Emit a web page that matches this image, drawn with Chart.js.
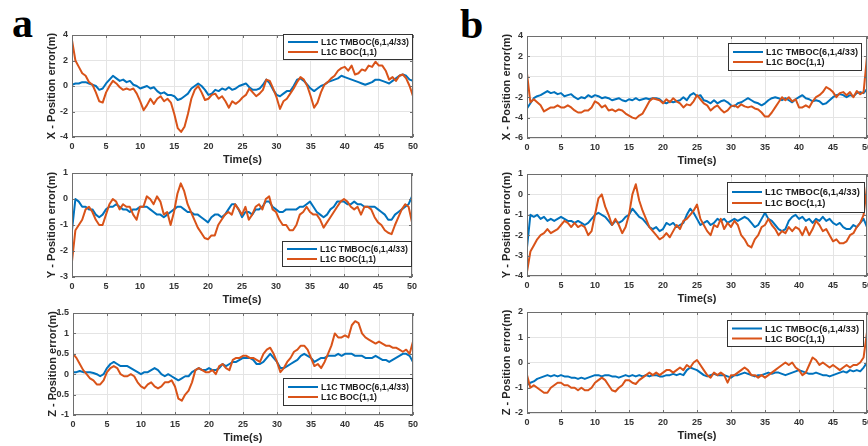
<!DOCTYPE html>
<html><head><meta charset="utf-8">
<script src="https://cdn.jsdelivr.net/npm/chart.js@4.4.1/dist/chart.umd.min.js"></script>
<style>
html,body{margin:0;padding:0;background:#fff;}
body{width:868px;height:446px;overflow:hidden;position:relative;}
canvas{position:absolute;}
.lab{position:absolute;font-family:"Liberation Serif","Times New Roman",serif;font-weight:bold;font-size:42px;line-height:42px;color:#000;}
</style></head><body>
<div class="lab" style="left:12px;top:2px">a</div>
<div class="lab" style="left:460px;top:3px">b</div>
<canvas id="c0"></canvas><canvas id="c1"></canvas><canvas id="c2"></canvas>
<canvas id="c3"></canvas><canvas id="c4"></canvas><canvas id="c5"></canvas>
<script>
const time = [0,0.5,1,1.5,2,2.5,3,3.5,4,4.5,5,5.5,6,6.5,7,7.5,8,8.5,9,9.5,10,10.5,11,11.5,12,12.5,13,13.5,14,14.5,15,15.5,16,16.5,17,17.5,18,18.5,19,19.5,20,20.5,21,21.5,22,22.5,23,23.5,24,24.5,25,25.5,26,26.5,27,27.5,28,28.5,29,29.5,30,30.5,31,31.5,32,32.5,33,33.5,34,34.5,35,35.5,36,36.5,37,37.5,38,38.5,39,39.5,40,40.5,41,41.5,42,42.5,43,43.5,44,44.5,45,45.5,46,46.5,47,47.5,48,48.5,49,49.5,50];
const xTicks = [0,5,10,15,20,25,30,35,40,45,50];
const seriesNames = ['L1C TMBOC(6,1,4/33)', 'L1C BOC(1,1)'];
const yTitles = ['X - Position error(m)', 'Y - Position error(m)', 'Z - Position error(m)'];
const xTitle = 'Time(s)';

// Panel a
const aX_tmboc = [0.1,0.2,0.2,0.3,0.3,0.2,0.1,0.0,-0.3,-0.2,
 0.2,0.5,0.8,0.6,0.4,0.5,0.3,0.4,0.1,0.0,
 -0.2,-0.1,0.0,-0.2,-0.1,-0.4,-0.6,-0.5,-0.7,-0.7,
 -0.8,-1.1,-1.0,-0.8,-0.6,-0.2,0.0,0.2,0.0,-0.3,
 -0.7,-0.6,-0.3,-0.4,-0.2,-0.3,-0.1,-0.3,-0.2,0.0,
 0.1,0.2,-0.1,-0.3,-0.3,-0.2,0.1,0.5,0.2,-0.3,
 -0.7,-0.8,-0.6,-0.4,-0.4,0.0,0.5,0.6,0.4,0.1,
 -0.2,-0.4,-0.2,0.0,0.1,0.3,0.4,0.5,0.6,0.8,
 0.7,0.6,0.5,0.4,0.3,0.2,0.1,0.2,0.3,0.5,
 0.5,0.4,0.3,0.2,0.4,0.6,0.8,0.9,0.8,0.5,
 0.4];
const aX_boc = [3.6,2.0,1.5,1.0,0.8,0.3,0.1,-0.5,-1.2,-1.3,
 -0.5,0.0,0.4,0.2,-0.1,-0.3,-0.2,-0.3,-0.2,-0.6,
 -1.2,-1.9,-1.5,-1.0,-1.4,-1.0,-0.8,-1.2,-1.0,-1.3,
 -2.2,-3.3,-3.6,-3.2,-2.2,-1.0,-0.3,0.0,-0.5,-1.1,
 -1.0,-0.7,-0.6,-1.0,-0.8,-1.2,-1.7,-1.2,-1.4,-1.2,
 -0.9,-0.7,-0.2,-0.5,-0.8,-0.6,-0.3,0.5,0.4,-0.2,
 -0.9,-1.8,-1.2,-1.0,-0.6,-0.2,0.3,0.7,0.5,0.0,
 -0.8,-1.7,-1.3,-0.5,0.1,0.3,0.6,0.8,1.2,1.4,
 1.5,1.2,1.6,0.9,1.0,1.3,1.2,1.6,1.5,1.9,
 1.6,1.6,1.2,0.5,0.7,0.4,0.8,0.9,0.6,0.0,
 -0.8];
const aY_tmboc = [-1.2,0.0,-0.1,-0.3,-0.3,-0.4,-0.4,-0.6,-0.7,-0.6,
 -0.4,-0.3,-0.3,-0.2,-0.3,-0.4,-0.4,-0.5,-0.4,-0.4,
 -0.3,-0.3,-0.3,-0.4,-0.5,-0.6,-0.6,-0.7,-0.6,-0.5,
 -0.4,-0.3,-0.3,-0.4,-0.5,-0.5,-0.6,-0.6,-0.7,-0.8,
 -0.9,-0.7,-0.6,-0.6,-0.7,-0.6,-0.4,-0.2,-0.2,-0.4,
 -0.7,-0.5,-0.5,-0.6,-0.4,-0.4,-0.3,-0.1,-0.1,-0.3,
 -0.4,-0.5,-0.5,-0.4,-0.4,-0.4,-0.4,-0.3,-0.3,-0.2,
 -0.1,-0.3,-0.5,-0.6,-0.7,-0.6,-0.4,-0.3,-0.1,-0.1,
 -0.1,-0.2,-0.2,-0.1,-0.2,-0.2,-0.3,-0.3,-0.3,-0.3,
 -0.4,-0.5,-0.6,-0.8,-0.8,-0.6,-0.5,-0.4,-0.3,-0.2,
 0.1];
const aY_boc = [-2.4,-1.2,-1.0,-0.8,-0.4,-0.3,-0.5,-0.8,-1.0,-1.0,
 -0.6,-0.2,0.0,-0.1,-0.4,-0.2,-0.3,-0.3,-0.6,-0.8,
 -0.3,-0.3,0.1,0.0,-0.2,0.1,-0.1,-0.6,-0.5,-1.0,
 -0.5,0.2,0.6,0.3,-0.2,-0.5,-0.8,-1.1,-1.3,-1.5,
 -1.55,-1.4,-1.4,-1.0,-0.8,-0.6,-0.5,-0.6,-0.2,-0.4,
 -0.6,-0.3,-0.8,-0.6,-0.3,-0.2,-0.4,0.0,0.1,-0.4,
 -0.5,-0.8,-1.0,-1.0,-1.2,-1.2,-1.0,-0.6,-0.5,-0.3,
 -0.5,-0.6,-0.6,-0.8,-1.1,-0.9,-0.7,-0.5,-0.3,-0.1,
 0.0,-0.1,-0.3,-0.4,-0.3,-0.6,-0.3,-0.3,-0.4,-0.7,
 -0.9,-1.0,-1.2,-1.3,-1.35,-1.0,-0.7,-0.4,-0.2,-0.3,
 -0.9];
const aZ_tmboc = [0.05,0.05,0.08,0.05,0.05,0.05,0.03,0.0,-0.05,0.0,
 0.15,0.25,0.3,0.25,0.2,0.2,0.2,0.15,0.1,0.05,
 0.0,0.05,0.05,0.1,0.15,0.1,0.0,-0.05,0.0,-0.05,
 -0.1,-0.15,-0.1,-0.05,-0.05,0.05,0.1,0.15,0.1,0.1,
 0.15,0.1,0.1,0.15,0.25,0.2,0.25,0.3,0.3,0.35,
 0.4,0.4,0.4,0.35,0.25,0.25,0.3,0.4,0.5,0.4,
 0.3,0.15,0.15,0.2,0.25,0.3,0.35,0.45,0.5,0.45,
 0.4,0.3,0.35,0.4,0.4,0.45,0.45,0.45,0.5,0.45,
 0.5,0.5,0.5,0.45,0.45,0.45,0.4,0.4,0.4,0.45,
 0.4,0.35,0.35,0.3,0.35,0.4,0.45,0.5,0.5,0.45,
 0.3];
const aZ_boc = [0.5,0.4,0.25,0.1,0.0,-0.1,-0.15,-0.25,-0.25,-0.15,
 0.05,0.15,0.2,0.15,0.0,-0.05,-0.05,0.0,-0.05,-0.2,
 -0.3,-0.35,-0.25,-0.2,-0.3,-0.35,-0.3,-0.2,-0.2,-0.15,
 -0.3,-0.6,-0.65,-0.5,-0.4,-0.2,0.1,0.15,0.1,0.05,
 0.05,0.1,0.0,0.2,0.25,0.15,0.1,0.35,0.4,0.4,
 0.45,0.45,0.4,0.4,0.35,0.3,0.5,0.6,0.65,0.5,
 0.3,0.05,0.15,0.3,0.4,0.55,0.6,0.7,0.7,0.6,
 0.4,0.2,0.25,0.15,0.3,0.5,0.7,1.0,0.9,0.9,
 0.95,0.9,1.2,1.3,1.25,1.0,0.9,0.85,0.8,0.75,
 0.8,0.75,0.7,0.7,0.65,0.65,0.6,0.55,0.6,0.5,
 0.8];

// Panel b
const bX_tmboc = [-3.1,-2.6,-2.1,-1.9,-1.8,-1.6,-1.4,-1.6,-1.5,-1.7,
 -1.6,-1.9,-1.8,-1.7,-2.0,-2.2,-2.0,-2.1,-1.8,-2.0,
 -1.8,-1.9,-2.1,-2.0,-2.1,-2.3,-2.2,-2.1,-2.3,-2.4,
 -2.2,-2.3,-2.1,-2.3,-2.2,-2.1,-2.2,-2.1,-2.1,-2.2,
 -2.5,-2.6,-2.4,-2.5,-2.4,-2.3,-2.0,-2.3,-1.8,-1.6,
 -1.9,-1.8,-2.3,-2.4,-2.6,-2.3,-2.6,-2.4,-2.3,-2.5,
 -2.8,-2.9,-2.6,-2.5,-2.3,-2.1,-2.3,-2.5,-2.6,-2.8,
 -2.6,-2.3,-2.1,-2.0,-2.1,-2.3,-2.1,-2.3,-2.5,-2.2,
 -2.0,-1.8,-2.1,-2.2,-2.4,-2.3,-2.4,-2.7,-2.6,-2.3,
 -2.0,-1.8,-1.7,-1.8,-2.0,-1.8,-1.9,-1.6,-1.5,-1.6,
 -1.2];
const bX_boc = [0.3,-2.5,-2.2,-2.5,-2.8,-3.4,-3.2,-3.0,-3.0,-2.8,
 -3.0,-3.0,-2.8,-3.0,-3.3,-3.5,-3.5,-3.3,-3.3,-3.0,
 -2.4,-2.6,-3.0,-2.8,-3.3,-3.2,-3.4,-3.2,-3.3,-3.6,
 -3.8,-4.0,-4.1,-3.8,-3.6,-3.0,-2.4,-2.1,-2.2,-2.3,
 -2.6,-2.2,-2.5,-2.1,-2.4,-2.6,-3.0,-2.7,-2.8,-2.4,
 -1.8,-2.2,-2.6,-2.8,-3.3,-3.0,-2.8,-3.2,-3.5,-3.3,
 -2.9,-2.8,-3.0,-2.7,-2.9,-3.0,-2.9,-3.1,-3.2,-3.5,
 -3.9,-3.9,-3.5,-3.0,-2.5,-2.0,-2.3,-2.0,-2.4,-2.2,
 -3.0,-3.0,-2.8,-3.0,-2.4,-2.0,-1.8,-1.5,-1.0,-1.2,
 -1.5,-2.0,-1.6,-1.5,-1.8,-1.5,-2.0,-1.4,-1.7,-1.5,
 2.0];
const bY_tmboc = [-2.6,-1.0,-1.1,-1.0,-1.2,-1.1,-1.3,-1.2,-1.3,-1.2,
 -1.1,-1.2,-1.3,-1.3,-1.4,-1.3,-1.4,-1.5,-1.4,-1.2,
 -1.0,-0.9,-1.0,-1.1,-1.3,-1.5,-1.3,-1.4,-1.3,-1.1,
 -1.0,-0.7,-0.9,-1.1,-1.2,-1.4,-1.6,-1.7,-1.6,-1.8,
 -1.7,-1.4,-1.5,-1.4,-1.6,-1.5,-1.4,-1.0,-0.7,-0.9,
 -1.2,-1.5,-1.4,-1.3,-1.5,-1.4,-1.2,-1.3,-1.2,-1.4,
 -1.3,-1.2,-1.3,-1.2,-1.1,-1.2,-1.4,-1.6,-1.5,-1.2,
 -0.9,-1.2,-1.3,-1.5,-1.7,-1.8,-1.7,-1.3,-1.1,-1.0,
 -1.2,-1.1,-1.3,-1.2,-1.4,-1.2,-1.3,-1.1,-1.3,-1.2,
 -1.4,-1.5,-1.4,-1.6,-1.7,-1.7,-1.5,-1.6,-1.4,-1.2,
 -1.6];
const bY_boc = [-3.8,-2.8,-2.5,-2.2,-2.0,-1.9,-1.7,-1.9,-1.8,-1.7,
 -1.5,-1.3,-1.4,-1.6,-1.4,-1.6,-1.5,-1.6,-2.0,-1.8,
 -1.0,-0.2,0.0,-0.6,-1.0,-1.5,-1.2,-1.5,-1.9,-1.6,
 -1.0,0.0,0.5,-0.3,-0.8,-1.2,-1.6,-1.8,-2.0,-2.2,
 -2.1,-1.9,-2.1,-1.8,-1.5,-1.7,-1.3,-1.2,-1.0,-0.8,
 -0.5,-1.2,-1.5,-1.8,-2.0,-1.5,-1.6,-1.2,-1.7,-1.4,
 -1.6,-1.3,-1.5,-2.0,-2.2,-2.5,-2.6,-2.2,-2.0,-1.6,
 -1.5,-1.2,-1.5,-1.7,-2.0,-1.8,-1.9,-1.6,-1.8,-1.6,
 -1.7,-2.0,-1.6,-2.0,-1.7,-1.3,-1.5,-1.8,-1.7,-2.0,
 -2.3,-2.2,-2.4,-2.4,-2.3,-2.0,-1.9,-1.6,-1.4,-1.0,
 0.4];
const bZ_tmboc = [-0.9,-0.8,-0.75,-0.65,-0.6,-0.55,-0.5,-0.55,-0.5,-0.55,
 -0.5,-0.55,-0.55,-0.6,-0.6,-0.65,-0.6,-0.65,-0.6,-0.55,
 -0.5,-0.5,-0.55,-0.5,-0.5,-0.55,-0.55,-0.6,-0.55,-0.5,
 -0.55,-0.5,-0.55,-0.5,-0.55,-0.5,-0.55,-0.5,-0.5,-0.55,
 -0.55,-0.5,-0.5,-0.45,-0.5,-0.45,-0.5,-0.3,-0.2,-0.25,
 -0.3,-0.4,-0.5,-0.55,-0.5,-0.45,-0.5,-0.5,-0.5,-0.55,
 -0.6,-0.5,-0.5,-0.45,-0.4,-0.45,-0.5,-0.55,-0.5,-0.5,
 -0.45,-0.4,-0.45,-0.4,-0.4,-0.45,-0.5,-0.45,-0.4,-0.35,
 -0.3,-0.35,-0.4,-0.45,-0.45,-0.4,-0.45,-0.5,-0.5,-0.55,
 -0.5,-0.45,-0.4,-0.35,-0.4,-0.3,-0.35,-0.3,-0.35,-0.2,
 0.0];
const bZ_boc = [-0.5,-1.0,-0.9,-1.0,-1.1,-1.2,-1.2,-1.0,-0.9,-0.8,
 -0.8,-0.9,-0.9,-1.0,-1.0,-1.1,-1.0,-1.1,-1.1,-1.0,
 -0.8,-0.7,-0.6,-0.7,-0.9,-1.1,-1.15,-1.0,-0.9,-0.7,
 -0.7,-0.8,-0.85,-0.7,-0.6,-0.5,-0.4,-0.5,-0.4,-0.5,
 -0.4,-0.3,-0.3,-0.4,-0.3,-0.2,-0.3,-0.1,-0.2,0.0,
 0.1,-0.1,-0.3,-0.5,-0.6,-0.4,-0.5,-0.4,-0.5,-0.8,
 -0.5,-0.5,-0.4,-0.3,-0.2,-0.3,-0.5,-0.5,-0.6,-0.5,
 -0.6,-0.5,-0.4,-0.3,-0.2,-0.1,0.0,-0.1,0.0,-0.2,
 -0.3,-0.5,-0.4,-0.1,0.2,0.1,-0.1,0.0,-0.1,-0.2,
 -0.1,-0.2,-0.3,-0.2,-0.1,-0.2,-0.1,-0.1,0.0,0.2,
 1.2];

// Y tick labels
const aX_yTicks = [-4,-2,0,2,4];
const aY_yTicks = [-3,-2,-1,0,1];
const aZ_yTicks = [-1,-0.5,0,0.5,1,1.5];
const bX_yTicks = [-6,-4,-2,0,2,4];
const bY_yTicks = [-4,-3,-2,-1,0,1];
const bZ_yTicks = [-2,-1,0,1,2];

const BLUE = '#0072BD', ORANGE = '#D95319';
const FONT = '"Liberation Sans", Arial, Helvetica, sans-serif';
const AXW = 62, AXH = 34, PT = 10, PR = 14;
const FRAME = '#6e6e6e';

const panels = [
  {id:'c0', L:72, T:35, R:413, B:137, tm:aX_tmboc, boc:aX_boc, yt:aX_yTicks, title:yTitles[0],
   leg:{anchor:'top', dx:0, dy:-1, w:130, h:26, fs:8.7}},
  {id:'c1', L:72, T:173, R:412, B:277, tm:aY_tmboc, boc:aY_boc, yt:aY_yTicks, title:yTitles[1],
   leg:{anchor:'bottom', dx:0, dy:10, w:130, h:26, fs:8.7}},
  {id:'c2', L:73, T:313, R:413, B:415, tm:aZ_tmboc, boc:aZ_boc, yt:aZ_yTicks, title:yTitles[2],
   leg:{anchor:'bottom', dx:0, dy:9, w:130, h:28, fs:8.7}},
  {id:'c3', L:527, T:36, R:867, B:138, tm:bX_tmboc, boc:bX_boc, yt:bX_yTicks, title:yTitles[0],
   leg:{anchor:'top', dx:5, dy:7, w:134, h:28, fs:9.1}},
  {id:'c4', L:527, T:174, R:867, B:276, tm:bY_tmboc, boc:bY_boc, yt:bY_yTicks, title:yTitles[1],
   leg:{anchor:'top', dx:2, dy:8, w:138, h:31, fs:9.4}},
  {id:'c5', L:527, T:312, R:867, B:413, tm:bZ_tmboc, boc:bZ_boc, yt:bZ_yTicks, title:yTitles[2],
   leg:{anchor:'top', dx:3, dy:8, w:137, h:27, fs:9.3}}
];

const framePlugin = {
  id: 'frame',
  afterDatasetsDraw(chart) {
    const {ctx, chartArea: a, scales} = chart;
    ctx.save();
    ctx.strokeStyle = FRAME;
    ctx.lineWidth = 1;
    ctx.strokeRect(Math.round(a.left) + 0.5, Math.round(a.top) + 0.5,
                   Math.round(a.right - a.left) - 1, Math.round(a.bottom - a.top) - 1);
    ctx.beginPath();
    scales.x.ticks.forEach(t => {
      const px = Math.round(scales.x.getPixelForValue(t.value)) + 0.5;
      ctx.moveTo(px, a.bottom); ctx.lineTo(px, a.bottom - 3);
      ctx.moveTo(px, a.top); ctx.lineTo(px, a.top + 3);
    });
    scales.y.ticks.forEach(t => {
      const py = Math.round(scales.y.getPixelForValue(t.value)) + 0.5;
      ctx.moveTo(a.left, py); ctx.lineTo(a.left + 3, py);
      ctx.moveTo(a.right, py); ctx.lineTo(a.right - 3, py);
    });
    ctx.stroke();
    ctx.restore();
  }
};

const legendPlugin = {
  id: 'boxLegend',
  afterDraw(chart, args, opts) {
    const {ctx, chartArea: a} = chart;
    const g = opts;
    const x = Math.round(a.right - g.dx - g.w);
    const y = Math.round(g.anchor === 'top' ? a.top + g.dy : a.bottom - g.dy - g.h);
    ctx.save();
    ctx.fillStyle = '#fff';
    ctx.fillRect(x, y, g.w, g.h);
    ctx.strokeStyle = '#333';
    ctx.lineWidth = 1;
    ctx.strokeRect(x + 0.5, y + 0.5, g.w - 1, g.h - 1);
    ctx.font = 'bold ' + g.fs + 'px ' + FONT;
    ctx.textBaseline = 'middle';
    ctx.textAlign = 'left';
    const rowGap = g.h > 29 ? 11 : 10;
    const rows = [y + g.h / 2 - rowGap / 2, y + g.h / 2 + rowGap / 2];
    chart.data.datasets.slice().sort((p, q) => p.legendIndex - q.legendIndex).forEach((ds, i) => {
      const ry = rows[i];
      ctx.strokeStyle = ds.borderColor;
      ctx.lineWidth = 2;
      ctx.beginPath();
      ctx.moveTo(x + 5, ry); ctx.lineTo(x + 35, ry);
      ctx.stroke();
      ctx.fillStyle = '#1a1a1a';
      ctx.fillText(ds.label, x + 38, ry + 0.5);
    });
    ctx.restore();
  }
};

function toPoints(arr) { return time.map((t, i) => ({x: t, y: arr[i]})); }

panels.forEach(p => {
  const cv = document.getElementById(p.id);
  const W = (p.R - p.L) + AXW + PR;
  const H = (p.B - p.T) + PT + AXH;
  cv.width = W; cv.height = H;
  cv.style.left = (p.L - AXW) + 'px';
  cv.style.top = (p.T - PT) + 'px';
  cv.style.width = W + 'px'; cv.style.height = H + 'px';
  new Chart(cv, {
    type: 'line',
    data: {
      datasets: [
        {label: seriesNames[0], data: toPoints(p.tm), borderColor: BLUE, borderWidth: 2,
         pointRadius: 0, tension: 0, order: 2, legendIndex: 0, borderJoinStyle: 'round'},
        {label: seriesNames[1], data: toPoints(p.boc), borderColor: ORANGE, borderWidth: 2,
         pointRadius: 0, tension: 0, order: 1, legendIndex: 1, borderJoinStyle: 'round'}
      ]
    },
    options: {
      responsive: false,
      animation: false,
      devicePixelRatio: 1,
      layout: {padding: {left: 0, top: PT, right: PR, bottom: 0}},
      plugins: {
        legend: {display: false},
        tooltip: {enabled: false},
        boxLegend: p.leg
      },
      scales: {
        x: {
          type: 'linear', min: xTicks[0], max: xTicks[xTicks.length - 1],
          afterBuildTicks: s => { s.ticks = xTicks.map(v => ({value: v})); },
          afterFit: s => { s.height = AXH; },
          grid: {color: '#e4e4e4', lineWidth: 1, drawTicks: false},
          border: {display: false},
          ticks: {font: {family: FONT, size: 9, weight: 'bold'}, color: '#333', padding: 4,
                  maxRotation: 0, autoSkip: false, callback: v => String(v)},
          title: {display: true, text: xTitle, color: '#262626',
                  font: {family: FONT, size: 11, weight: 'bold'}, padding: {top: 0, bottom: 4.4}}
        },
        y: {
          type: 'linear', min: p.yt[0], max: p.yt[p.yt.length - 1],
          afterBuildTicks: s => { s.ticks = p.yt.map(v => ({value: v})); },
          afterFit: s => { s.width = AXW; },
          grid: {color: '#e4e4e4', lineWidth: 1, drawTicks: false},
          border: {display: false},
          ticks: {font: {family: FONT, size: 9, weight: 'bold'}, color: '#333', padding: 4,
                  autoSkip: false, callback: v => String(v)},
          title: {display: true, text: p.title, color: '#262626',
                  font: {family: FONT, size: 11, weight: 'bold'}, padding: {top: 35, bottom: 0}}
        }
      }
    },
    plugins: [framePlugin, legendPlugin]
  });
});
</script>
</body></html>
